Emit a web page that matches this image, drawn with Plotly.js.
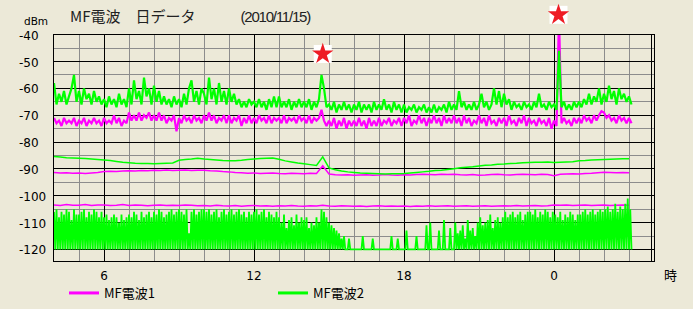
<!DOCTYPE html>
<html><head><meta charset="utf-8">
<script src="https://cdn.plot.ly/plotly-3.0.1.min.js"></script>
<style>html,body{margin:0;padding:0;background:#ece9d8;}#chart{width:693px;height:309px;}</style>
</head><body><div id="chart"></div>
<script>
// time base (hours; 24+ means next day)
const startHour = 4;
const fineStep = 0.1;
const finestStep = 0.05;
const coarseStep = 0.25;

const xTickVals = [6, 12, 18, 24];
const xTickText = ['6', '12', '18', '0'];
const yTickVals = [-40, -50, -60, -70, -80, -90, -100, -110, -120];

// MF電波1 (magenta)
const mf1High = [
 -71,-73,-72,-74,-71,-73,-72,-73,-71,-74,
 -72,-73,-71,-74,-72,-73,-71,-73,-72,-74,
 -71,-73,-72,-73,-70,-73,-71,-74,-72,-73,
 -69,-72,-70,-72,-69,-72,-70,-71,-69,-72,
 -70,-72,-69,-72,-70,-73,-71,-72,-70,-76,
 -71,-73,-70,-72,-71,-73,-70,-72,-71,-73,
 -70,-72,-69,-72,-70,-73,-71,-72,-70,-73,
 -70,-73,-71,-72,-70,-74,-71,-73,-70,-73,
 -71,-73,-70,-72,-71,-73,-70,-73,-71,-72,
 -71,-73,-70,-73,-71,-72,-71,-73,-70,-72,
 -71,-73,-70,-73,-71,-72,-71,-68,-72,-74,
 -72,-74,-71,-75,-72,-74,-71,-75,-72,-74,
 -72,-74,-71,-74,-72,-75,-71,-74,-72,-74,
 -71,-74,-72,-73,-71,-74,-72,-73,-71,-74,
 -71,-73,-70,-74,-72,-73,-70,-73,-71,-74,
 -71,-73,-70,-73,-71,-74,-70,-73,-71,-73,
 -70,-73,-71,-74,-70,-73,-71,-74,-72,-73,
 -70,-73,-71,-74,-70,-73,-72,-74,-71,-73,
 -71,-74,-70,-73,-72,-74,-71,-73,-70,-74,
 -71,-73,-72,-74,-71,-73,-72,-74,-71,-75,
 -72,-74,-33,-73,-71,-73,-72,-74,-71,-73,
 -71,-73,-70,-72,-71,-73,-70,-72,-70,-68.5,
 -69,-71,-70,-72,-71,-73,-70,-72,-71,-73,
 -71,-73
];
const mf1Avg = [
 -91.3,-91.5,-91.4,-91.6, -91.5,-91.7,-91.5,-91.3, -91.0,-90.9,-91.0,-90.8,
 -90.7,-90.8,-90.6,-90.7, -90.5,-90.6,-90.4,-90.6, -90.5,-90.4,-90.6,-90.5,
 -90.5,-90.7,-90.8,-91.0, -91.1,-91.3,-91.4,-91.6, -91.5,-91.7,-91.6,-91.5,
 -91.7,-91.8,-91.6,-91.7, -91.8,-91.6,-91.7,-88.8, -91.9,-92.2,-92.3,-92.2,
 -92.4,-92.3,-92.2,-92.4, -92.3,-92.1,-92.3,-92.4, -92.2,-92.3,-92.1,-92.0,
 -92.1,-92.2,-92.0,-92.1, -92.0,-92.2,-92.3,-92.1, -92.4,-92.3,-92.1,-92.0,
 -92.2,-92.3,-92.1,-92.0, -92.1,-92.2,-92.0,-92.1, -92.5,-92.0,-91.9,-91.8,
 -91.9,-91.7,-91.6,-91.4, -91.2,-91.3,-91.4,-91.3, -91.4
];
const mf1Low = [
 -103.4,-103.6,-103.3,-103.5, -103.5,-103.3,-103.6,-103.4, -103.4,-103.6,-103.5,-103.3,
 -103.6,-103.4,-103.5,-103.7, -103.5,-103.4,-103.6,-103.5, -103.6,-103.4,-103.5,-103.7,
 -103.6,-103.8,-103.5,-103.7, -103.8,-103.6,-103.9,-103.7, -103.6,-103.8,-103.7,-103.9,
 -103.7,-103.8,-103.6,-103.8, -103.9,-103.7,-103.8,-103.5, -103.8,-103.9,-103.7,-103.8,
 -103.9,-103.8,-104.0,-103.8, -103.7,-103.9,-103.8,-103.9, -103.8,-104.0,-103.8,-103.9,
 -103.7,-103.9,-103.8,-103.7, -103.9,-103.8,-103.7,-103.9, -103.8,-103.7,-103.9,-103.8,
 -103.7,-103.8,-103.6,-103.8, -103.7,-103.6,-103.8,-103.7, -103.4,-103.5,-103.4,-103.6,
 -103.5,-103.4,-103.6,-103.5, -103.4,-103.6,-103.5,-103.4, -103.5
];

// MF電波2 (green)
const mf2High = [
 -58,-66,-62,-65,-61,-66,-63,-60,-55,-65,
 -61,-66,-60,-64,-62,-66,-61,-65,-63,-66,
 -64,-67,-63,-66,-64,-67,-62,-66,-64,-67,
 -60,-66,-57,-64,-61,-66,-56,-63,-60,-66,
 -59,-65,-61,-66,-63,-66,-64,-67,-63,-66,
 -64,-67,-62,-66,-60,-57,-65,-61,-66,-60,
 -62,-66,-56,-64,-60,-66,-58,-65,-61,-66,
 -60,-65,-62,-66,-64,-67,-65,-67,-64,-66,
 -65,-67,-64,-67,-65,-68,-64,-67,-63,-67,
 -63,-67,-65,-67,-64,-68,-65,-67,-64,-67,
 -65,-67,-64,-68,-65,-67,-64,-55,-60,-67,
 -66,-68,-65,-69,-66,-68,-65,-68,-66,-69,
 -66,-68,-65,-69,-66,-68,-66,-69,-65,-68,
 -66,-68,-64,-68,-66,-69,-65,-68,-66,-69,
 -66,-69,-67,-68,-66,-69,-67,-68,-66,-69,
 -67,-69,-66,-69,-67,-68,-66,-69,-65,-68,
 -66,-68,-61,-67,-65,-68,-66,-68,-65,-68,
 -66,-62,-67,-65,-68,-66,-60,-66,-61,-67,
 -62,-66,-64,-68,-65,-67,-66,-68,-65,-67,
 -66,-68,-65,-67,-62,-67,-66,-68,-65,-67,
 -66,-68,-46,-67,-65,-68,-66,-68,-65,-67,
 -65,-67,-64,-66,-62,-66,-63,-65,-60,-66,
 -62,-65,-59,-64,-61,-66,-60,-64,-62,-65,
 -63,-66
];
const mf2Avg = [
 -85.4,-85.6,-85.8,-85.9, -86.0,-86.1,-86.3,-86.5, -86.7,-86.9,-87.2,-87.5,
 -87.7,-87.9,-88.0,-88.0, -88.1,-88.0,-87.9,-87.8, -86.8,-86.5,-86.3,-86.0,
 -86.3,-86.5,-86.7,-86.9, -87.0,-87.0,-86.8,-86.5, -86.3,-86.1,-86.0,-85.9,
 -86.4,-87.0,-87.4,-87.8, -88.1,-88.4,-88.7,-85.5, -89.6,-90.3,-90.8,-91.1,
 -91.3,-91.5,-91.6,-91.7, -91.8,-91.9,-91.8,-91.8, -91.7,-91.5,-91.3,-91.1,
 -90.9,-90.6,-90.5,-90.2, -89.9,-89.6,-89.4,-89.2, -88.9,-88.6,-88.5,-88.3,
 -88.2,-88.0,-87.9,-87.7, -87.6,-87.5,-87.5,-87.4, -87.6,-87.5,-87.4,-87.3,
 -87.0,-86.9,-86.7,-86.6, -86.5,-86.4,-86.3,-86.2, -86.2
];
// 3-minute samples, one row per hour from 4:00
const mf2Low = [
 -106,-120,-105,-120,-108,-120,-106,-120,-107,-120,-105,-120,-106,-120,-109,-120,-105,-120,-107,-120,
 -107,-120,-106,-120,-105,-120,-108,-120,-106,-120,-107,-120,-105,-120,-106,-120,-108,-120,-106,-120,
 -108,-120,-107,-120,-109,-120,-108,-120,-107,-120,-108,-120,-110,-120,-107,-120,-109,-120,-108,-120,
 -107,-120,-108,-120,-106,-120,-107,-120,-109,-120,-106,-120,-108,-120,-107,-120,-106,-120,-108,-120,
 -106,-120,-107,-120,-105,-120,-106,-120,-108,-120,-107,-120,-106,-120,-105,-120,-107,-120,-106,-120,
 -105,-120,-106,-120,-107,-120,-105,-120,-114,-120,-106,-120,-105,-120,-107,-120,-106,-120,-105,-120,
 -105,-120,-106,-120,-105,-120,-107,-120,-106,-120,-105,-120,-108,-120,-106,-120,-105,-120,-107,-120,
 -106,-120,-105,-120,-107,-120,-106,-120,-105,-120,-107,-120,-106,-120,-108,-120,-106,-120,-107,-120,
 -106,-120,-105,-120,-107,-120,-106,-120,-105,-120,-108,-120,-106,-120,-107,-120,-108,-120,-106,-120,
 -108,-120,-110,-120,-107,-120,-112,-120,-109,-120,-108,-120,-111,-120,-107,-120,-110,-120,-108,-120,
 -109,-120,-108,-120,-112,-120,-110,-120,-111,-120,-108,-120,-110,-120,-105,-120,-106,-120,-108,-120,
 -110,-120,-111,-120,-112,-120,-113,-120,-114,-120,-116,-120,-115,-120,-120,-120,-116,-120,-120,-120,
 -120,-120,-120,-120,-120,-120,-120,-115,-120,-120,-120,-120,-120,-120,-120,-116,-120,-120,-120,-120,
 -120,-120,-120,-120,-120,-120,-120,-120,-120,-120,-115,-120,-120,-120,-120,-116,-120,-120,-120,-120,
 -120,-120,-113,-120,-120,-120,-120,-120,-120,-120,-115,-120,-120,-120,-120,-120,-120,-120,-111,-120,
 -120,-110,-120,-120,-120,-120,-120,-120,-113,-120,-120,-120,-109,-120,-120,-120,-120,-112,-120,-120,
 -120,-110,-120,-114,-120,-113,-120,-111,-120,-116,-120,-109,-120,-113,-120,-112,-120,-115,-120,-110,
 -120,-108,-120,-111,-120,-110,-120,-109,-120,-107,-120,-112,-120,-109,-120,-108,-120,-110,-120,-108,
 -120,-106,-120,-108,-120,-107,-120,-106,-120,-108,-120,-107,-120,-106,-120,-109,-120,-107,-120,-106,
 -120,-106,-120,-107,-120,-105,-120,-108,-120,-106,-120,-107,-120,-105,-120,-106,-120,-108,-120,-106,
 -120,-107,-120,-108,-120,-106,-120,-109,-120,-107,-120,-108,-120,-106,-120,-107,-120,-109,-120,-107,
 -120,-107,-120,-106,-120,-105,-120,-107,-120,-106,-120,-105,-120,-107,-120,-106,-120,-105,-120,-106,
 -120,-105,-120,-104,-120,-106,-120,-105,-120,-103,-120,-106,-120,-104,-120,-105,-120,-103,-120,-101,
 -120,-105,-120
];

// peak markers (red stars)
const peakHours = [14.75, 24.18];
const peakLevels = [-47.2, -32.6];

const MAG = '#ff00ff', GRN = '#00ff00';
function series(y, dx, color, width, name, group, show) {
  return {type:'scatter', mode:'lines', x0:startHour, dx:dx, y:y, name:name,
    legendgroup:group, showlegend:show, hoverinfo:'skip',
    line:{color:color, width:width, simplify:false}};
}
const traces = [
  series(mf1High, fineStep, MAG, 2.2, 'MF電波1', 'm', true),
  series(mf1Avg, coarseStep, MAG, 1.5, 'MF電波1', 'm', false),
  series(mf1Low, coarseStep, MAG, 1.5, 'MF電波1', 'm', false),
  series(mf2High, fineStep, GRN, 2.2, 'MF電波2', 'g', true),
  series(mf2Avg, coarseStep, GRN, 1.5, 'MF電波2', 'g', false),
  series(mf2Low, finestStep, GRN, 1.8, 'MF電波2', 'g', false),
  {type:'scatter', mode:'markers', x:peakHours, y:peakLevels, xaxis:'x2', yaxis:'y2',
   showlegend:false, hoverinfo:'skip', cliponaxis:false,
   marker:{symbol:'square', size:18, color:'#ffffff'}},
  {type:'scatter', mode:'markers', x:peakHours, y:peakLevels, xaxis:'x2', yaxis:'y2',
   showlegend:false, hoverinfo:'skip', cliponaxis:false,
   marker:{symbol:'star', size:16, color:'#ee1c24', line:{width:0}}}
];

// plot frame: full drawing area 5..261 px, data frame top at 34.7 px
const yMin = -124.3, yMax = -40;
const frameTop = 0.884;
const overlayTop = yMin + (yMax - yMin) / frameTop;

const annotations = yTickVals.map(v => ({
  xref:'paper', yref:'y', x:0, y:v, xanchor:'left', yanchor:'middle',
  xshift:-35, yshift:-1, showarrow:false, text:String(v), borderpad:0, borderwidth:0,
  font:{family:'DejaVu Sans', size:12, color:'#000'}
}));
annotations.push({xref:'paper', yref:'y', x:0, y:yMax, xanchor:'left', yanchor:'middle',
  xshift:-30, yshift:14, showarrow:false, text:'dBm', borderpad:0, borderwidth:0,
  font:{family:'DejaVu Sans', size:10.5, color:'#000'}});
annotations.push({xref:'paper', yref:'paper', x:1, y:0, xanchor:'left', yanchor:'middle',
  xshift:8, yshift:-13, showarrow:false, text:'時', font:{family:'Noto Sans CJK JP', size:13, color:'#000'}});

const layout = {
  width:693, height:309,
  margin:{l:54, r:39, t:5, b:48, pad:0},
  paper_bgcolor:'#ece9d8', plot_bgcolor:'rgba(0,0,0,0)',
  title:{text:'MF電波\u3000日データ\u3000\u3000\u3000<span style="font-family:\'Liberation Sans\';font-size:15px;letter-spacing:-1.2px">(2010/11/15)</span>',
         xref:'container', x:70/693, xanchor:'left',
         yref:'container', y:1-17/309, yanchor:'middle',
         font:{family:'Noto Sans CJK JP', size:15, color:'#222'}},
  showlegend:true,
  legend:{orientation:'h', xref:'container', yref:'container', x:64/693, y:1-293/309,
          xanchor:'left', yanchor:'middle', entrywidth:164, entrywidthmode:'pixels',
          bgcolor:'rgba(0,0,0,0)', font:{family:'Noto Sans CJK JP', size:13, color:'#000'}},
  xaxis:{domain:[0,1], anchor:'y', range:[4,28], tickmode:'array', tickvals:xTickVals, ticktext:xTickText,
         showgrid:true, gridcolor:'#000', gridwidth:1, zeroline:false,
         showline:true, mirror:true, linecolor:'#000', linewidth:1, ticks:'',
         ticklabelstandoff:4,
         tickfont:{family:'DejaVu Sans', size:12, color:'#000'},
         minor:{tickmode:'linear', tick0:4, dtick:1, showgrid:true, gridcolor:'#8c8c8c', gridwidth:1}},
  yaxis:{domain:[0,frameTop], anchor:'x', range:[yMin,yMax], tickmode:'linear', tick0:-120, dtick:10, showticklabels:false,
         showgrid:true, gridcolor:'#000', gridwidth:1, zeroline:false,
         showline:true, mirror:true, linecolor:'#000', linewidth:1, ticks:'',
         minor:{tickmode:'linear', tick0:-120, dtick:5, showgrid:true, gridcolor:'#8c8c8c', gridwidth:1}},
  xaxis2:{domain:[0,1], anchor:'y2', range:[4,28], visible:false, showgrid:false, zeroline:false},
  yaxis2:{domain:[0,1], anchor:'x2', range:[yMin, overlayTop], visible:false, showgrid:false, zeroline:false},
  shapes:[{type:'line', xref:'paper', yref:'y domain', xsizemode:'pixel', xanchor:1, x0:-2.5, x1:-2.5,
           y0:0, y1:1, line:{color:'#000', width:1}}],
  annotations:annotations
};

Plotly.newPlot('chart', traces, layout, {staticPlot:true, displayModeBar:false}).then(() => {
  document.querySelectorAll('.legendlines path').forEach(p => { p.style.strokeWidth = '3px'; });
});
</script></body></html>
